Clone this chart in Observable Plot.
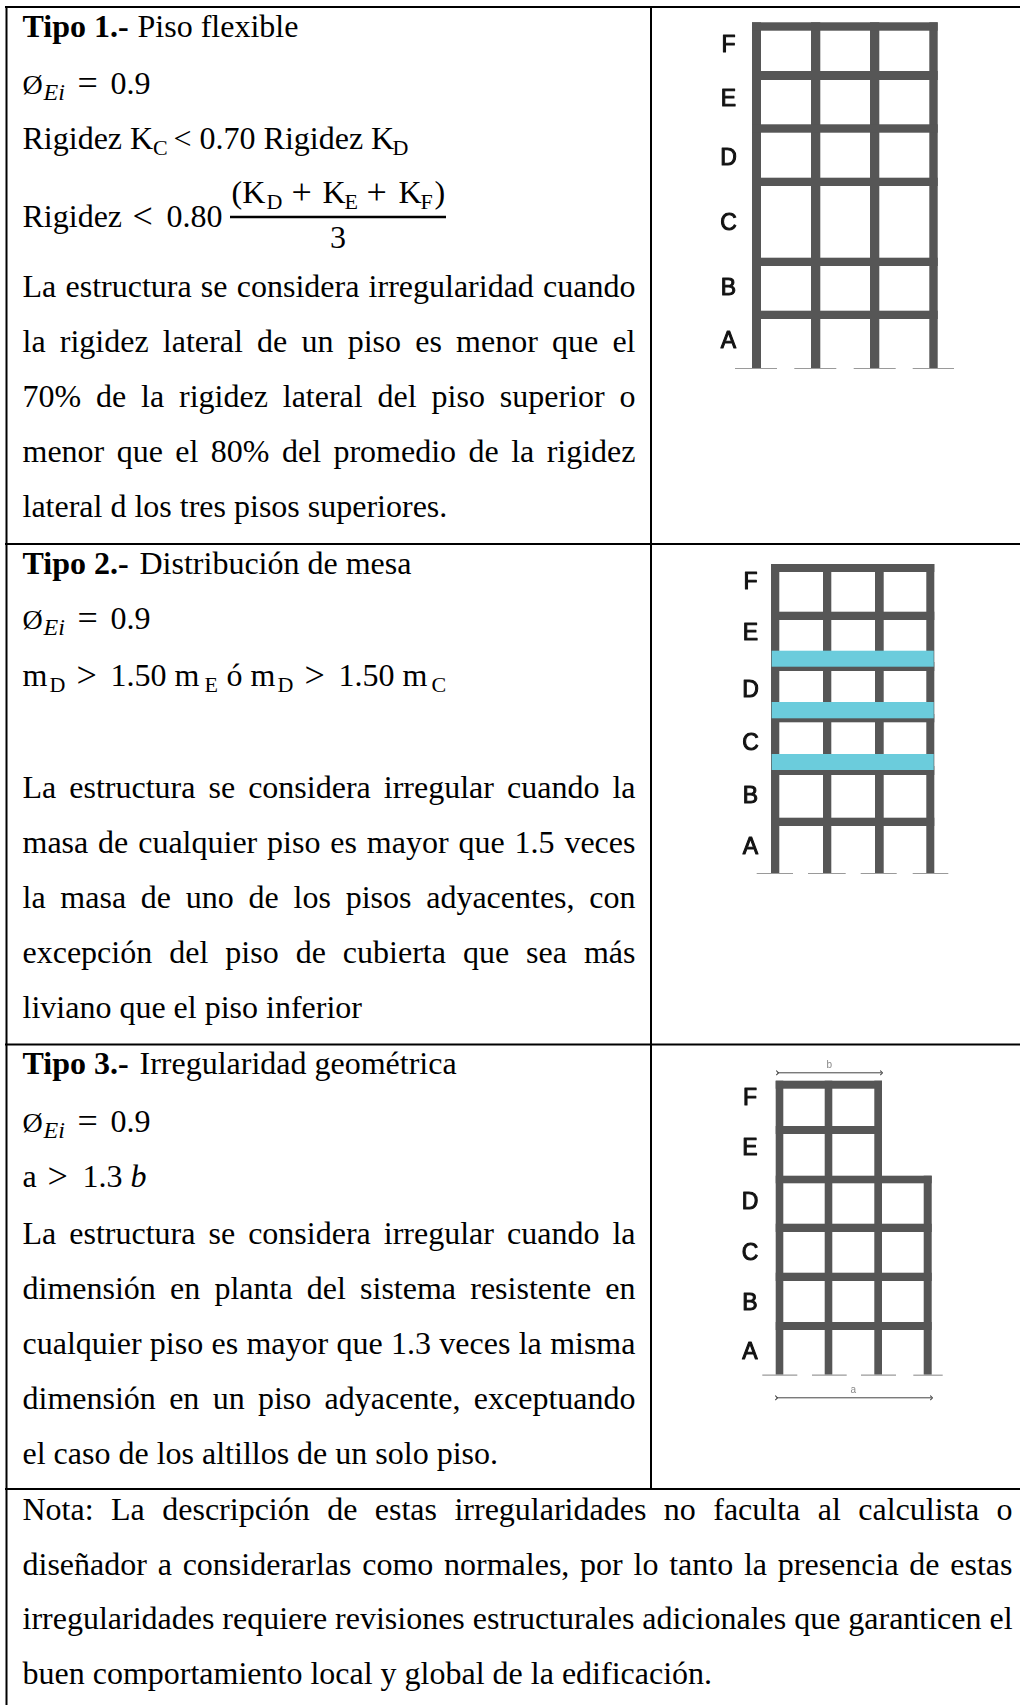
<!DOCTYPE html>
<html><head><meta charset="utf-8">
<script src="https://cdn.jsdelivr.net/npm/d3@7"></script>
<script src="https://cdn.jsdelivr.net/npm/@observablehq/plot@0.6"></script>
<style>
html,body{margin:0;padding:0;background:#fff}
svg{display:block}
.frame{filter:blur(.55px)}
</style></head><body><div id="chart"></div>
<script>
// ---------- text content ----------
const body1 = [
  "La estructura se considera irregularidad cuando",
  "la rigidez lateral de un piso es menor que el",
  "70% de la rigidez lateral del piso superior o",
  "menor que el 80% del promedio de la rigidez"
];
const body1Last = ["lateral d los tres pisos superiores."];
const body2 = [
  "La estructura se considera irregular cuando la",
  "masa de cualquier piso es mayor que 1.5 veces",
  "la masa de uno de los pisos adyacentes, con",
  "excepción del piso de cubierta que sea más"
];
const body2Last = ["liviano que el piso inferior"];
const body3 = [
  "La estructura se considera irregular cuando la",
  "dimensión en planta del sistema resistente en",
  "cualquier piso es mayor que 1.3 veces la misma",
  "dimensión en un piso adyacente, exceptuando"
];
const body3Last = ["el caso de los altillos de un solo piso."];
const note = [
  "Nota: La descripción de estas irregularidades no faculta al calculista o",
  "diseñador a considerarlas como normales, por lo tanto la presencia de estas",
  "irregularidades requiere revisiones estructurales adicionales que garanticen el"
];
const noteLast = ["buen comportamiento local y global de la edificación."];
const floorLabels = ["F","E","D","C","B","A"];

// ---------- structure readings (page units) ----------
const frame1 = {
  cols: [[752,761],[811,820.3],[870,879.3],[929.3,937.7]],
  beams: [[22.3,30.7],[71,80],[124.3,132.7],[177.7,186],[257.7,266],[310.7,319]],
  base: 368,
  ground: [[735,777],[794.3,836.3],[853.7,895.7],[912.7,954]],
  labelX: 728, labelY: [51,105,164,229,294,347]
};
const frame2 = {
  cols: [[771,779.3],[823,831.3],[875,883.7],[926.3,934.3]],
  beams: [[564,572],[611.7,620],[662,671],[714,722.3],[766,775],[817.7,826]],
  base: 873,
  ground: [[756.7,793],[808,845.7],[860.7,896.7],[912.7,948.3]],
  labelX: 750, labelY: [588,639,696,749,802,853]
};
const frame2Slabs = [[650.7,666.7],[702,718.3],[754,770]];
const frame2SlabX = [771.7,933.7];
const frame3 = {
  cols: [[775.7,783.3,1080.7],[824.7,832.3,1080.7],[874.3,882,1080.7],[923.7,931.7,1175.7]],
  beams: [[1080.7,1088.7,775.7,882],[1126,1134,775.7,882],[1175.7,1183.3,775.7,931.7],[1223.7,1232,775.7,931.7],[1272.7,1281,775.7,931.7],[1322,1330,775.7,931.7]],
  base: 1374.7,
  ground: [[762.3,797.3],[812,846.7],[861,896],[913.3,942.7]],
  labelX: 749.5, labelY: [1104,1154,1208,1259,1309,1358]
};

// ---------- table grid ----------
const gridH = [[6.5,5,1020],[543.5,5,1020],[1044,5,1020],[1488.5,5,1020]];
const gridV = [[6,6,1705],[650.5,6,1488.5]];
const fractionBar = [{y:216.5,x1:230,x2:446}];

// ---------- styles ----------
const serif = "Liberation Serif";
const FS = 32, SUB = 22, EI = 24, PHI = 28, OP = 36, LEFT = 22, RIGHT1 = 635, RIGHTN = 1012, LH = 55;
const dark = "#565656", cyan = "#6bccdc", ink = "#000";

// build rows
const lines = [];
function block(arr, y0, right, lh=LH){ arr.forEach((t,i)=>lines.push({text:t,y:y0+i*lh,right})); }
block(body1,296.7,RIGHT1); block(body1Last,296.7+4*LH,null);
block(body2,797.5,RIGHT1); block(body2Last,797.5+4*LH,null);
block(body3,1243,RIGHT1); block(body3Last,1243+4*LH,null);
block(note,1519.5,RIGHTN,54.6); block(noteLast,1519.5+3*54.6,null);

const boldRuns = [["Tipo 1.-",36.5],["Tipo 2.-",573.5],["Tipo 3.-",1073]].map(([text,y])=>({text,x:LEFT,y}));
const italicRuns = [["Ei",43,99],["Ei",43,634],["Ei",43,1137]].map(([text,x,y])=>({text,x,y,size:EI}))
  .concat([{text:"b",x:130,y:1186.7,size:FS}]);
// inline run: [text, x, y, size]
const runs = [
  ["Piso flexible",137,36.5,FS],
  ["Distribución de mesa",139,573.5,FS],
  ["Irregularidad geométrica",139,1073,FS],
  ["Ø",LEFT,93,PHI],["=",77,94,OP],["0.9",110,93,FS],
  ["Ø",LEFT,628,PHI],["=",77,629,OP],["0.9",110,628,FS],
  ["Ø",LEFT,1131,PHI],["=",77,1132,OP],["0.9",110,1131,FS],
  ["Rigidez K",LEFT,148,FS],["C",152.6,154,SUB],["< 0.70 Rigidez K",173,148,FS],["D",392,154,SUB],
  ["Rigidez",LEFT,226.7,FS],["<",132,227.7,OP],["0.80",166,226.7,FS],
  ["(K",231,202,FS],["D",266,208,SUB],["+",291,203,OP],["K",322,202,FS],["E",344,208,SUB],["+",366,203,OP],["K",398,202,FS],["F",420,208,SUB],[")",434,202,FS],
  ["3",329.5,247.7,FS],
  ["m",LEFT,685,FS],["D",49,691.7,SUB],[">",76,686,OP],["1.50 m",110,685,FS],["E",204,691.7,SUB],["ó m",226,685,FS],["D",277,691.7,SUB],[">",304,686,OP],["1.50 m",338,685,FS],["C",431,691.7,SUB],
  ["a",LEFT,1186.7,FS],[">",47,1187.7,OP],["1.3",82,1186.7,FS]
].map(([text,x,y,size])=>({text,x,y,size}));

// frame expansion
function parts(f){
  const cols = f.cols.map(c=>({x1:c[0],x2:c[1],y1:c[2]??f.beams[0][0],y2:f.base}));
  const beams = f.beams.map(b=>({x1:b[2]??f.cols[0][0],x2:b[3]??f.cols[3][1],y1:b[0],y2:b[1]}));
  const ground = f.ground.map(g=>({x1:g[0],x2:g[1],y:f.base}));
  const labels = floorLabels.map((t,i)=>({text:t,x:f.labelX,y:f.labelY[i]}));
  return {cols,beams,ground,labels};
}
const F = [frame1,frame2,frame3].map(parts);
const allRect = F.flatMap(f=>[...f.cols,...f.beams]);
const allGround = F.flatMap(f=>f.ground);
const allLabels = F.flatMap(f=>f.labels);
const slabs = frame2Slabs.map(s=>({x1:frame2SlabX[0],x2:frame2SlabX[1],y1:s[0],y2:s[1]}));
const dims = [
  {x1:777,x2:881,y:1072.3,t:"b",tx:828.7,ty:1064},
  {x1:776,x2:931,y:1397.3,t:"a",tx:852.7,ty:1389}
];

// justify: set word-spacing after measuring with a canvas
const ctx = document.createElement("canvas").getContext("2d");
function justifier(index, scales, values, dimensions, context, next){
  const g = next(index, scales, values, dimensions, context);
  ctx.font = `${FS}px "${serif}"`;
  d3.select(g).selectAll("text").each(function(d,i){
    const row = lines[index[i]];
    if(!row.right) return;
    const gaps = row.text.split(" ").length-1;
    const w = ctx.measureText(row.text).width;
    this.setAttribute("word-spacing", ((row.right-LEFT-w)/gaps).toFixed(2));
  });
  return g;
}
const textOpts = {textAnchor:"start",lineAnchor:"bottom",fontFamily:serif,fill:ink};

const chart = Plot.plot({
  width:1020,height:1705,margin:0,
  x:{domain:[0,1020],axis:null},
  y:{domain:[1705,0],axis:null},
  marks:[
    Plot.ruleY(gridH,{y:d=>d[0],x1:d=>d[1],x2:d=>d[2],stroke:ink,strokeWidth:2}),
    Plot.ruleX(gridV,{x:d=>d[0],y1:d=>d[1],y2:d=>d[2],stroke:ink,strokeWidth:2}),
    Plot.rect(allRect,{x1:"x1",x2:"x2",y1:"y1",y2:"y2",fill:dark,className:"frame"}),
    Plot.rect(slabs,{x1:"x1",x2:"x2",y1:"y1",y2:"y2",fill:cyan,className:"frame"}),
    Plot.ruleY(allGround,{y:"y",x1:"x1",x2:"x2",stroke:"#9a9a9a",strokeWidth:1.2,className:"frame"}),
    Plot.text(allLabels,{x:"x",y:"y",text:"text",lineAnchor:"bottom",fontFamily:"Liberation Sans",fontSize:23,fill:"#111",stroke:"#111",strokeWidth:1,className:"frame"}),
    Plot.link(dims,{x1:"x1",x2:"x2",y1:"y",y2:"y",stroke:"#444",strokeWidth:1,markerStart:"arrow",markerEnd:"arrow",className:"frame"}),
    Plot.text(dims,{x:"tx",y:"ty",text:"t",fontFamily:"Liberation Sans",fontSize:10,fill:"#888",className:"frame"}),
    Plot.ruleY(fractionBar,{y:"y",x1:"x1",x2:"x2",stroke:ink,strokeWidth:2.5}),
    Plot.text(lines,{...textOpts,x:LEFT,y:"y",text:"text",fontSize:FS,render:justifier}),
    Plot.text(boldRuns,{...textOpts,x:"x",y:"y",text:"text",fontSize:FS,fontWeight:"bold"}),
    Plot.text(runs,{...textOpts,x:"x",y:"y",text:"text",fontSize:"size"}),
    Plot.text(italicRuns,{...textOpts,x:"x",y:"y",text:"text",fontSize:"size",fontStyle:"italic"})
  ]
});
document.getElementById("chart").appendChild(chart);
</script></body></html>
